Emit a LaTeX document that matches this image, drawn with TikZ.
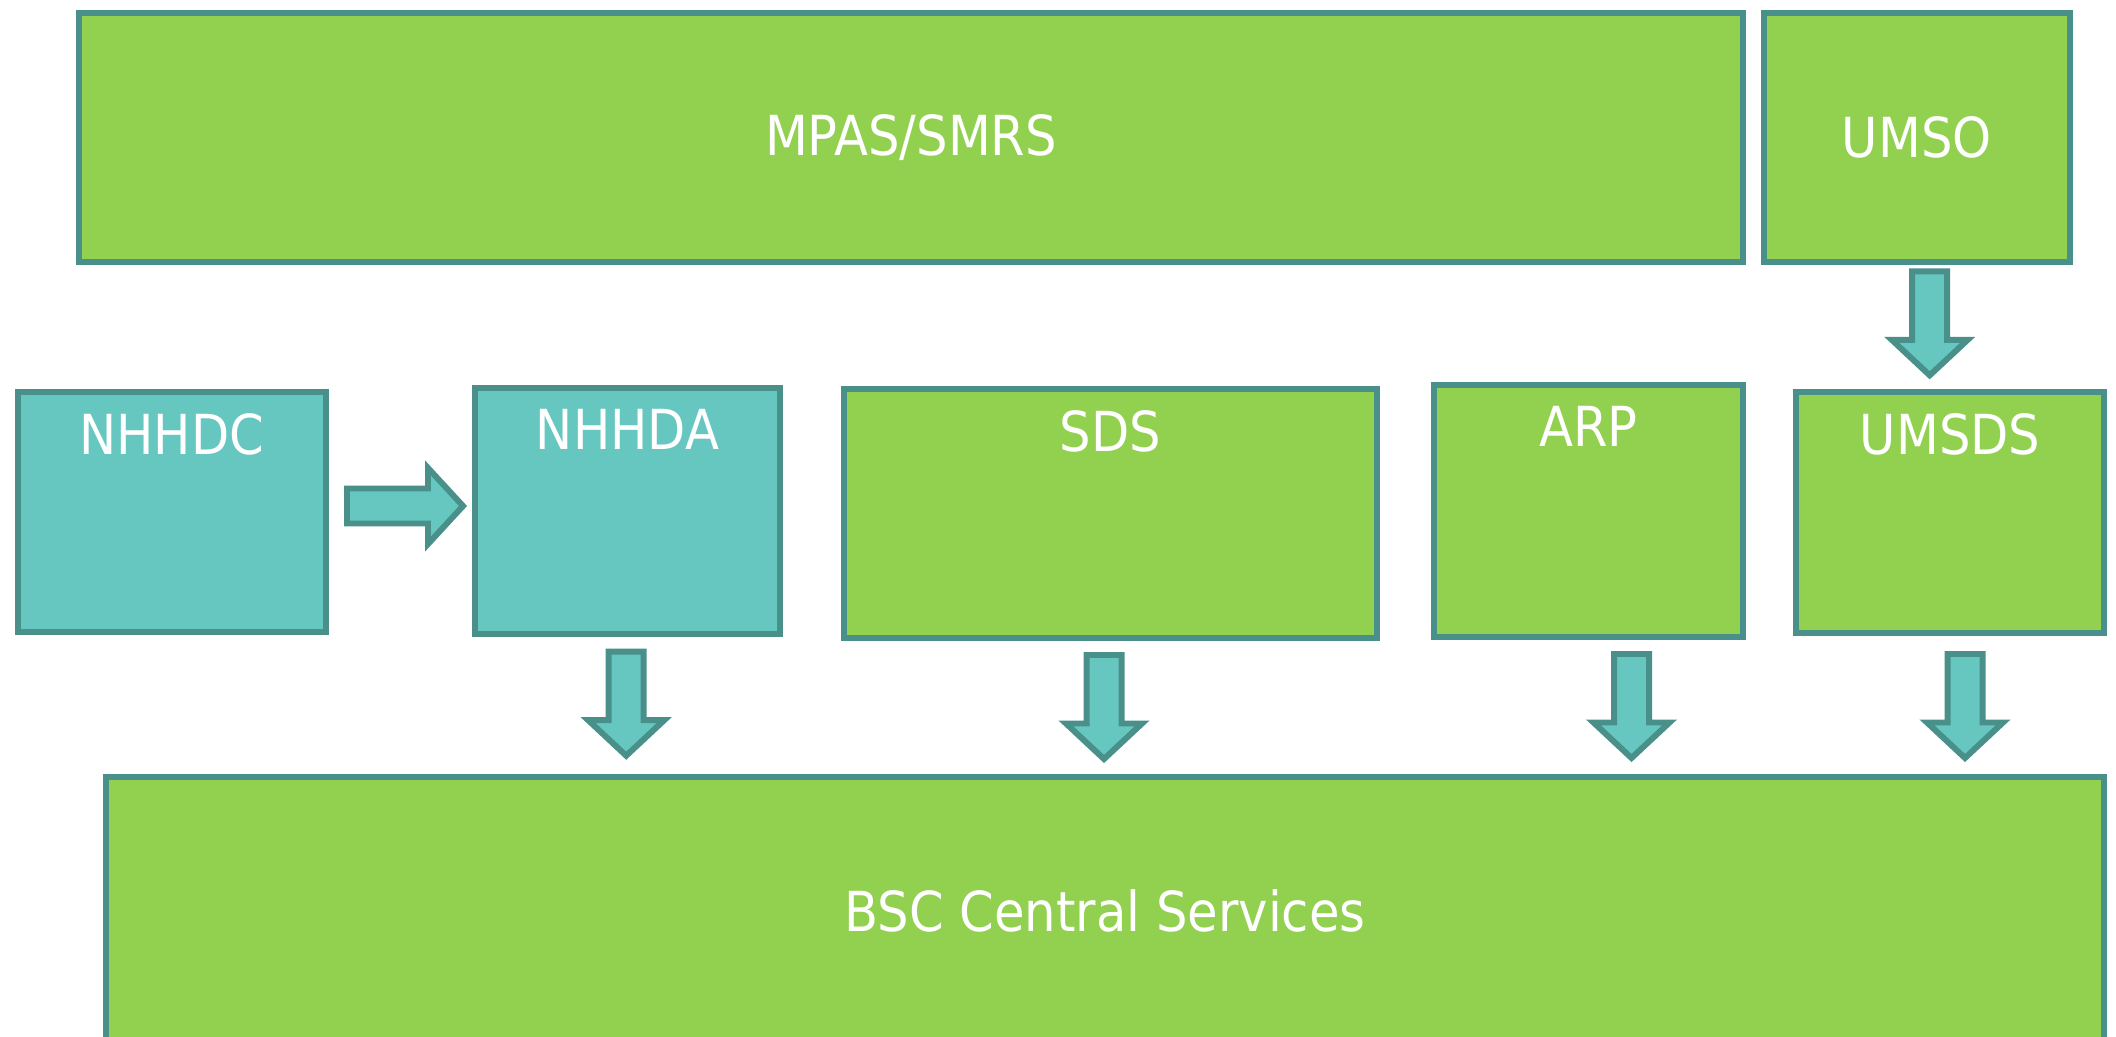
\documentclass[tikz,border=0pt]{standalone}
\usepackage{fontspec}
\setmainfont{DejaVu Sans Condensed}
\usepackage{xcolor}
\usepackage{tikz}
\usetikzlibrary{positioning}

\definecolor{leaf}{RGB}{146,208,80}
\definecolor{teal}{RGB}{74,144,138}
\definecolor{aqua}{RGB}{102,199,193}

\begin{document}
\begin{tikzpicture}[
    box/.style={rectangle, draw=teal, line width=1.7pt, fill=leaf, inner sep=0pt, anchor=north west, text=white, font=\fontsize{15.7}{19}\selectfont},
    aquabox/.style={box, fill=aqua},
    boxlabel/.style={inner sep=0pt, anchor=north, text=white, font=\fontsize{15.7}{19}\selectfont},
    flow/.style={draw=teal, line width=1.7pt, fill=aqua, line join=miter},
    pics/downflow/.style={code={
        \draw[flow] (-0.175,0) -- (0.175,0) -- (0.175,-0.685) -- (0.38,-0.685) -- (0,-1.04) -- (-0.38,-0.685) -- (-0.175,-0.685) -- cycle;
    }}
]
    \useasboundingbox (0,0) rectangle (21.16,-10.37);

    % Top row
    \node[box, minimum width=16.634cm, minimum height=2.493cm] (mpas) at (0.763,-0.097) {MPAS/SMRS};
    \node[box, minimum width=3.063cm, minimum height=2.493cm] (umso) at (17.607,-0.097) {UMSO};

    % Middle row
    \node[aquabox, minimum width=3.083cm, minimum height=2.399cm] (nhhdc) at (0.147,-3.887) {};
    \node[aquabox, minimum width=3.05cm, minimum height=2.46cm] (nhhda) at (4.72,-3.85) {};
    \node[box, minimum width=5.327cm, minimum height=2.484cm] (sds) at (8.41,-3.863) {};
    \node[box, minimum width=3.096cm, minimum height=2.523cm] (arp) at (14.307,-3.82) {};
    \node[box, minimum width=3.083cm, minimum height=2.416cm] (umsds) at (17.93,-3.887) {};

    \node[boxlabel, below=0.24cm of nhhdc.north] {NHHDC};
    \node[boxlabel, below=0.24cm of nhhda.north] {NHHDA};
    \node[boxlabel, below=0.24cm of sds.north] {SDS};
    \node[boxlabel, below=0.24cm of arp.north] {ARP};
    \node[boxlabel, below=0.24cm of umsds.north] {UMSDS};

    % Bottom
    \node[box, minimum width=19.983cm, minimum height=2.686cm] (bsc) at (1.03,-7.737) {BSC Central Services};

    % Arrows
    \draw[flow] (3.47,-4.885) -- (4.28,-4.885) -- (4.28,-4.68) -- (4.63,-5.06) -- (4.28,-5.44) -- (4.28,-5.235) -- (3.47,-5.235) -- cycle;
    \pic at (19.297,-2.713) {downflow};
    \pic at (6.262,-6.517) {downflow};
    \pic at (11.04,-6.55) {downflow};
    \pic at (16.315,-6.54) {downflow};
    \pic at (19.65,-6.54) {downflow};
\end{tikzpicture}
\end{document}
